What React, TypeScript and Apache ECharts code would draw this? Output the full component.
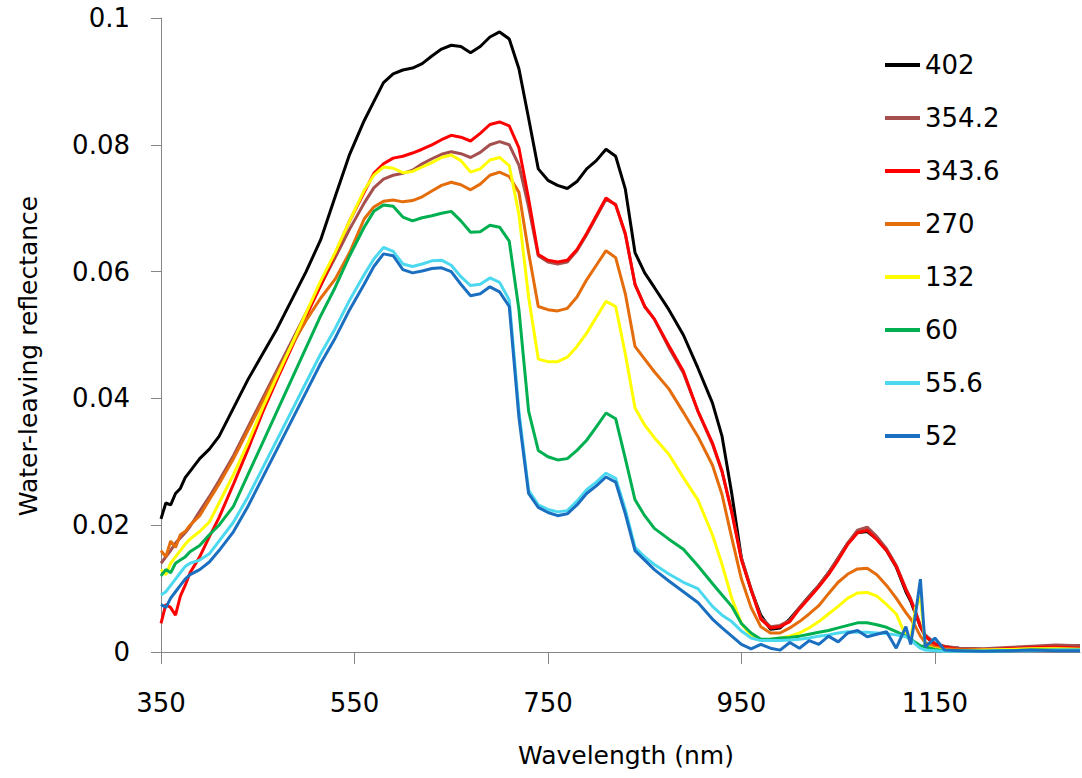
import React, { useEffect, useRef } from "react";
import * as echarts from "echarts";

const wavelengths = [
  350, 355, 360, 365, 370, 375, 380,
  390, 400, 410,
  425, 440, 455, 470, 485, 500, 515, 530, 545, 560,
  570, 580, 590, 600, 610, 620, 630, 640, 650, 660,
  670, 680, 690, 700, 710, 720, 730, 740, 750, 760,
  770, 780, 790, 800, 810, 820, 830, 840, 850, 860,
  875, 890, 905, 920, 930, 940, 950, 960, 970, 980,
  990, 1000, 1010, 1020, 1030, 1040, 1050, 1060, 1070, 1080,
  1090, 1100, 1110, 1120, 1125, 1130, 1135, 1140, 1150, 1160,
  1175, 1200, 1225, 1250, 1275, 1300,
];

const seriesNames = ["402", "354.2", "343.6", "270", "132", "60", "55.6", "52"];
const seriesColors = ["#000000", "#A5504E", "#FF0000", "#E46C0A", "#FFFF00", "#00B050", "#4CD9EF", "#1B6FC0"];

const r402 = [
  0.021, 0.0235, 0.0232, 0.025, 0.0258, 0.0275, 0.0285,
  0.0305, 0.032, 0.034,
  0.0385, 0.043, 0.047, 0.051, 0.0555, 0.06, 0.065, 0.0718, 0.0785, 0.0838,
  0.0868, 0.0898, 0.0912, 0.0918, 0.0921, 0.0928, 0.094, 0.0951, 0.0957, 0.0955,
  0.0945, 0.0955, 0.097, 0.0978, 0.0967, 0.092, 0.0842, 0.0762, 0.0744, 0.0736,
  0.0731, 0.0742, 0.0762, 0.0775, 0.0793, 0.0782, 0.073, 0.063, 0.0598, 0.0575,
  0.054, 0.05, 0.0448, 0.0393, 0.034, 0.025, 0.0148, 0.0098, 0.0058, 0.0036,
  0.0038, 0.0052, 0.007, 0.0088, 0.0105, 0.0125, 0.0148, 0.0172, 0.0188, 0.019,
  0.0178, 0.016, 0.0134, 0.0095, 0.008, 0.006, 0.004, 0.0025, 0.0012, 0.0008,
  0.0006, 0.0004, 0.0005, 0.0006, 0.0008, 0.001,
];

const r354 = [
  0.014, 0.015, 0.016, 0.0172, 0.018, 0.0188, 0.0198,
  0.0222, 0.0245, 0.027,
  0.031, 0.0355, 0.04, 0.0445, 0.049, 0.0535, 0.0578, 0.0622, 0.0667, 0.0708,
  0.0732, 0.0746, 0.0752, 0.0755, 0.076, 0.077, 0.0778, 0.0785, 0.0789, 0.0786,
  0.078, 0.0788, 0.08, 0.0805, 0.08, 0.0768, 0.0702, 0.0625, 0.0615, 0.0612,
  0.0615, 0.0633, 0.0658, 0.0686, 0.0714, 0.0706, 0.0658, 0.058, 0.0545, 0.0525,
  0.048, 0.044, 0.038, 0.0328, 0.0284, 0.0222, 0.0148, 0.01, 0.0054, 0.004,
  0.0042, 0.005, 0.007, 0.0087, 0.0105, 0.0125, 0.0148, 0.0172, 0.0192, 0.0197,
  0.0182, 0.0163, 0.0137, 0.01, 0.0084, 0.0064, 0.0042, 0.0027, 0.0014, 0.0009,
  0.0006, 0.0005, 0.0007, 0.0009, 0.0011, 0.001,
];

const r343 = [
  0.0045, 0.0075, 0.007, 0.0058, 0.0088, 0.0105, 0.0125,
  0.015, 0.0182, 0.0212,
  0.0265, 0.032, 0.0378, 0.043, 0.048, 0.053, 0.0578, 0.0628, 0.068, 0.0725,
  0.0755, 0.077, 0.0779, 0.0782, 0.0787, 0.0793, 0.08, 0.0808, 0.0815, 0.0812,
  0.0806, 0.0818, 0.0832, 0.0836, 0.083, 0.0795, 0.0715, 0.0627, 0.0618, 0.0615,
  0.0618, 0.0635, 0.066, 0.0688, 0.0716, 0.0705, 0.066, 0.058, 0.0545, 0.0525,
  0.0483, 0.0443, 0.038, 0.033, 0.0285, 0.022, 0.0145, 0.0098, 0.0052, 0.0038,
  0.004, 0.0048, 0.0068, 0.0085, 0.0103, 0.0122, 0.0145, 0.017, 0.0188, 0.0192,
  0.0177, 0.016, 0.0135, 0.0098, 0.0082, 0.0062, 0.004, 0.0025, 0.0012, 0.0008,
  0.0004, 0.0003, 0.0005, 0.0007, 0.0008, 0.0006,
];

const r270 = [
  0.016, 0.015, 0.0175, 0.0165, 0.0185, 0.019, 0.02,
  0.0215, 0.024, 0.0265,
  0.0305, 0.035, 0.0395, 0.044, 0.0483, 0.0523, 0.0558, 0.0588, 0.063, 0.0683,
  0.0702, 0.0711, 0.0713, 0.071, 0.0712, 0.0718, 0.0727, 0.0736, 0.0741, 0.0737,
  0.0729, 0.0738, 0.0752, 0.0757, 0.075, 0.0725, 0.063, 0.0545, 0.054, 0.0538,
  0.0542, 0.056, 0.0587, 0.061, 0.0633, 0.0622, 0.0565, 0.0482, 0.0462, 0.0442,
  0.0415, 0.0378, 0.034, 0.0295, 0.0248, 0.018, 0.0115, 0.007, 0.004, 0.003,
  0.003, 0.0038, 0.0048, 0.006, 0.0073, 0.0092, 0.011, 0.0123, 0.0131, 0.0132,
  0.0122, 0.0105, 0.0085, 0.0062, 0.0052, 0.004, 0.0025, 0.0015, 0.0008, 0.0005,
  0.0004, 0.0003, 0.0004, 0.0005, 0.0006, 0.0005,
];

const r132 = [
  0.013, 0.0122, 0.014, 0.015, 0.016, 0.017, 0.0178,
  0.019, 0.0205, 0.0235,
  0.028, 0.033, 0.0385, 0.0435, 0.0485, 0.0535, 0.0585, 0.063, 0.068, 0.0728,
  0.0752, 0.0765, 0.0763, 0.0756, 0.0758, 0.0765, 0.0772, 0.078, 0.0784, 0.0775,
  0.0757, 0.0762, 0.0776, 0.078, 0.0767, 0.069, 0.056, 0.0462, 0.0458, 0.0458,
  0.0465, 0.0482, 0.0503, 0.0528, 0.0553, 0.0545, 0.047, 0.0385, 0.0358, 0.0338,
  0.0312, 0.0275, 0.024, 0.0185, 0.0138, 0.0085, 0.0045, 0.0025, 0.0018, 0.002,
  0.0022, 0.0025, 0.003, 0.0038, 0.0048, 0.006, 0.0072, 0.0085, 0.0093, 0.0094,
  0.0088, 0.0075, 0.006, 0.0025, 0.002, 0.007, 0.0087, 0.001, 0.0005, 0.0003,
  0.0002, 0.0003, 0.0004, 0.0005, 0.0005, 0.0004,
];

const r60 = [
  0.012, 0.013, 0.0125, 0.014, 0.0145, 0.015, 0.0158,
  0.0168, 0.0185, 0.02,
  0.023, 0.028, 0.033, 0.038, 0.043, 0.048, 0.053, 0.0575, 0.0625, 0.067,
  0.0695, 0.0705, 0.0703, 0.0686, 0.068, 0.0685, 0.0688, 0.0692, 0.0695, 0.068,
  0.0662, 0.0663, 0.0673, 0.067, 0.0648, 0.054, 0.038, 0.0318, 0.0308, 0.0303,
  0.0305, 0.0318, 0.0334, 0.0355, 0.0377, 0.0368, 0.0305, 0.024, 0.0215, 0.0195,
  0.0178, 0.0162, 0.0136, 0.0108, 0.009, 0.0072, 0.0045, 0.003, 0.002, 0.002,
  0.0022, 0.0023, 0.0025, 0.0028, 0.0031, 0.0034, 0.0038, 0.0042, 0.0046, 0.0046,
  0.0043, 0.0039, 0.0032, 0.0025, 0.002, 0.0015, 0.001, 0.0008, 0.0004, 0.0002,
  0.0002, 0.0001, 0.0002, 0.0003, 0.0003, 0.0003,
];

const r55 = [
  0.009, 0.0095, 0.0105, 0.0115, 0.0125, 0.0135, 0.014,
  0.0145, 0.0155, 0.0175,
  0.0205, 0.0245, 0.029, 0.0335, 0.038, 0.0425, 0.047, 0.051, 0.0555, 0.0595,
  0.062, 0.0638, 0.0632, 0.0612, 0.0608, 0.0612, 0.0617, 0.0618, 0.061, 0.0592,
  0.0578, 0.058, 0.059, 0.0583, 0.0555, 0.038, 0.0255, 0.0232, 0.0225, 0.0221,
  0.0223, 0.0238, 0.0256, 0.0268, 0.0282, 0.0274, 0.0225, 0.0165, 0.015, 0.0138,
  0.0123, 0.011, 0.01, 0.0072, 0.0058, 0.0048, 0.0033, 0.0022, 0.0018, 0.0018,
  0.0018, 0.0019, 0.002, 0.0022, 0.0025, 0.0027, 0.003, 0.0032, 0.0031, 0.0031,
  0.003, 0.0029, 0.0027, 0.0024, 0.002, 0.0012, 0.0006, 0.0003, 0.0002, 0.0001,
  0.0001, 0.0001, 0.0002, 0.0002, 0.0003, 0.0003,
];

const r52 = [
  0.0075, 0.007, 0.0085, 0.0095, 0.0105, 0.0115, 0.0122,
  0.013, 0.0142, 0.016,
  0.019, 0.023, 0.0275, 0.032, 0.0365, 0.041, 0.0455, 0.0495, 0.054, 0.058,
  0.0608, 0.0628, 0.0625, 0.0603, 0.0598, 0.0601, 0.0605, 0.0606, 0.06, 0.058,
  0.0562, 0.0565, 0.0576, 0.0568, 0.0545, 0.037, 0.025, 0.0228, 0.022, 0.0215,
  0.0218, 0.0232, 0.025, 0.0262, 0.0276, 0.0268, 0.0218, 0.016, 0.0145, 0.013,
  0.0112, 0.0095, 0.0078, 0.0052, 0.0038, 0.0025, 0.0012, 0.0005, 0.0012, 0.0006,
  0.0003, 0.0015, 0.0006, 0.0018, 0.0012, 0.0025, 0.0016, 0.003, 0.0034, 0.0024,
  0.0028, 0.0032, 0.0006, 0.004, 0.0012, 0.006, 0.0115, 0.0008, 0.0022, 0.0003,
  0.0002, 0.0001, 0.0002, 0.0003, 0.0002, 0.0002,
];

const xTicks = [350, 550, 750, 950, 1150];
const xTitle = "Wavelength (nm)";
const yTitle = "Water-leaving reflectance";

const FONT = "DejaVu Sans";
const AXIS_COLOR = "#868686";

export default function App() {
  const ref = useRef<HTMLDivElement>(null);

  useEffect(() => {
    if (!ref.current) return;
    const chart = echarts.init(ref.current, null, { renderer: "svg" });
    const allValues = [r402, r354, r343, r270, r132, r60, r55, r52];

    chart.setOption({
      animation: false,
      backgroundColor: "#ffffff",
      grid: { left: 161, top: 18, right: 2, bottom: 126, containLabel: false },
      xAxis: {
        type: "value",
        min: 350,
        max: 1300,
        interval: 200,
        axisLine: { show: true, lineStyle: { color: AXIS_COLOR, width: 1 } },
        axisTick: { show: true, length: 12, customValues: xTicks, lineStyle: { color: AXIS_COLOR } },
        axisLabel: {
          customValues: xTicks,
          margin: 38,
          fontSize: 26,
          fontFamily: FONT,
          color: "#000",
          formatter: (v: number) => String(v),
        },
        splitLine: { show: false },
      },
      yAxis: {
        type: "value",
        min: 0,
        max: 0.1,
        interval: 0.02,
        axisLine: { show: true, lineStyle: { color: AXIS_COLOR, width: 1 } },
        axisTick: { show: true, length: 10, lineStyle: { color: AXIS_COLOR } },
        axisLabel: {
          margin: 31,
          fontSize: 26,
          fontFamily: FONT,
          color: "#000",
          formatter: (v: number) => String(Math.round(v * 100) / 100),
        },
        splitLine: { show: false },
      },
      legend: {
        orient: "vertical",
        left: 880,
        top: 47,
        itemWidth: 35,
        itemHeight: 4,
        itemGap: 27,
        icon: "rect",
        data: seriesNames,
        textStyle: { fontSize: 26, fontFamily: FONT, color: "#000", lineHeight: 26 },
      },
      graphic: [
        {
          type: "text",
          x: 626,
          y: 755,
          style: {
            text: xTitle,
            align: "center",
            verticalAlign: "middle",
            fontSize: 25,
            fontFamily: FONT,
            fill: "#000",
          },
        },
        {
          type: "text",
          x: 28,
          y: 356,
          rotation: Math.PI / 2,
          style: {
            text: yTitle,
            align: "center",
            verticalAlign: "middle",
            fontSize: 25,
            fontFamily: FONT,
            fill: "#000",
          },
        },
      ],
      series: allValues.map((vals, i) => ({
        name: seriesNames[i],
        type: "line",
        symbol: "none",
        showSymbol: false,
        data: wavelengths.map((w, j) => [w, vals[j]]),
        lineStyle: { width: 3, color: seriesColors[i] },
        itemStyle: { color: seriesColors[i] },
      })),
    });

    return () => {
      chart.dispose();
    };
  }, []);

  return (
    <div
      ref={ref}
      style={{ position: "absolute", left: 0, top: 0, width: 1082, height: 778 }}
    />
  );
}
